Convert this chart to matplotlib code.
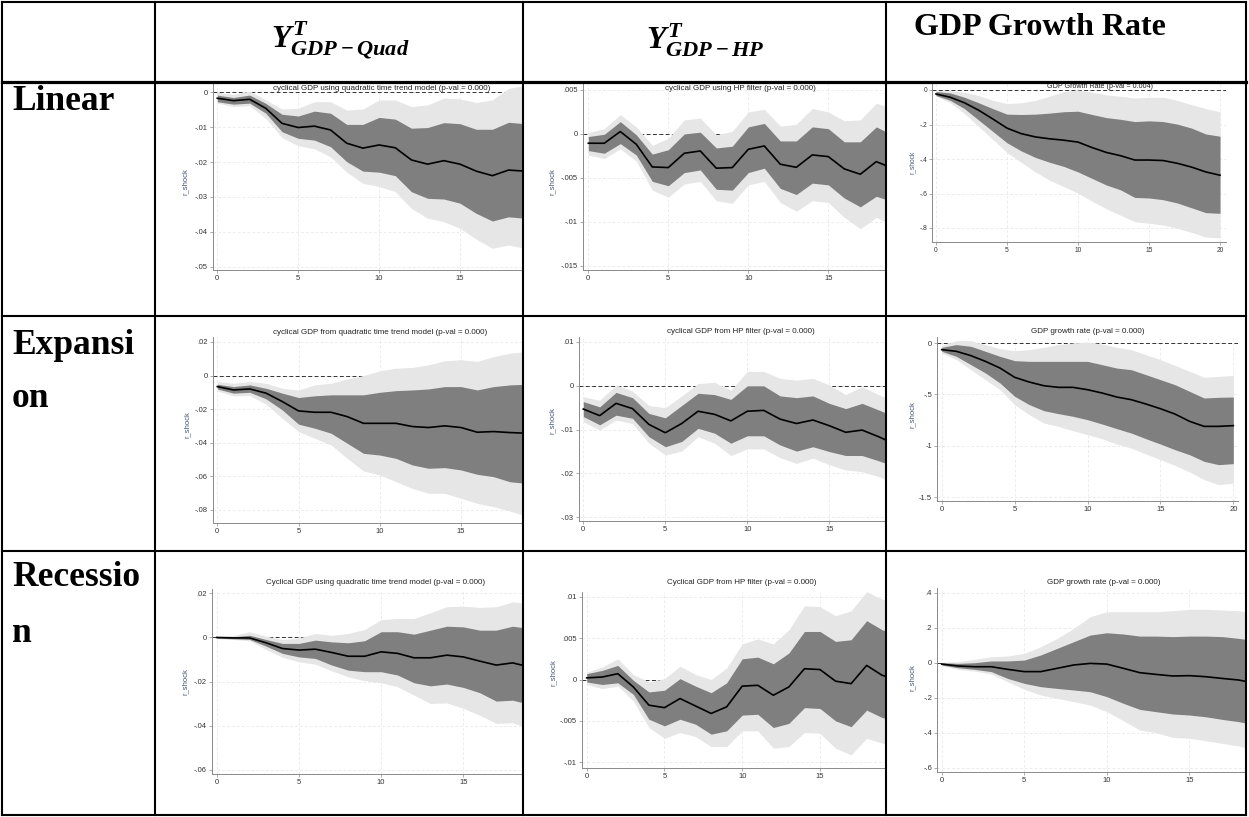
import matplotlib
matplotlib.use('Agg')
import matplotlib.pyplot as plt
from matplotlib.ticker import FuncFormatter

# impulse response steps (Stata irf, 0..20)
steps = list(range(21))

# ---- Linear, quadratic trend ----
lin_quad_irf = [-.0017, -.0024, -.0020, -.0046, -.0089, -.0101, -.0097, -.0108, -.0146, -.0160, -.0151, -.0159, -.0194, -.0206, -.0196, -.0206, -.0226, -.0239, -.0223, -.0226, -.0230]
lin_quad_in_hi = [-.0008, -.0015, -.0008, -.0032, -.0063, -.0068, -.0054, -.0060, -.0092, -.0092, -.0072, -.0077, -.0103, -.0101, -.0087, -.0090, -.0106, -.0106, -.0086, -.0090, -.0092]
lin_quad_in_lo = [-.0027, -.0034, -.0031, -.0060, -.0113, -.0132, -.0137, -.0156, -.0199, -.0226, -.0229, -.0239, -.0285, -.0304, -.0306, -.0318, -.0347, -.0369, -.0357, -.0361, -.0365]
lin_quad_out_hi = [.0000, -.0006, .0004, -.0022, -.0048, -.0046, -.0027, -.0027, -.0051, -.0048, -.0022, -.0022, -.0041, -.0036, -.0017, -.0019, -.0029, -.0022, .0011, .0020, .0025]
lin_quad_out_lo = [-.0031, -.0041, -.0038, -.0075, -.0130, -.0153, -.0162, -.0185, -.0229, -.0261, -.0270, -.0285, -.0333, -.0361, -.0371, -.0390, -.0421, -.0447, -.0438, -.0447, -.0455]

# ---- Linear, HP filter ----
lin_hp_irf = [-.00106, -.00106, .00027, -.00118, -.00376, -.00383, -.0022, -.00194, -.0039, -.00383, -.00175, -.00137, -.00345, -.0038, -.00239, -.00258, -.00398, -.00459, -.00315, -.0039, -.0036]
lin_hp_in_hi = [-.0003, -.00004, .0014, -.0001, -.0023, -.0018, .0000, .0002, -.0016, -.0014, .0008, .0012, -.0008, -.0008, .0008, .0006, -.0009, -.0009, .0008, -.0001, .0000]
lin_hp_in_lo = [-.0019, -.0022, -.0011, -.0024, -.0054, -.0059, -.0044, -.0041, -.0063, -.0064, -.0044, -.0039, -.0062, -.0069, -.0056, -.0058, -.0073, -.0083, -.0071, -.0077, -.0075]
lin_hp_out_hi = [.00015, .0006, .0022, .0008, -.0013, -.0005, .0016, .0018, -.0001, .0003, .0025, .0028, .0009, .0011, .0029, .0025, .0015, .0016, .0035, .0029, .0030]
lin_hp_out_lo = [-.0024, -.0028, -.0017, -.0031, -.0064, -.0072, -.0057, -.0054, -.0076, -.0079, -.0058, -.0054, -.0078, -.0088, -.0076, -.0078, -.0095, -.0108, -.0095, -.0104, -.0102]

# ---- Linear, GDP growth ----
lin_gr_irf = [-.023, -.042, -.074, -.117, -.168, -.221, -.253, -.272, -.283, -.291, -.302, -.334, -.362, -.381, -.406, -.406, -.409, -.425, -.447, -.475, -.494]
lin_gr_in_hi = [-.009, -.017, -.042, -.074, -.108, -.140, -.142, -.140, -.134, -.126, -.123, -.142, -.160, -.170, -.183, -.179, -.183, -.198, -.221, -.255, -.268]
lin_gr_in_lo = [-.032, -.060, -.108, -.174, -.240, -.306, -.353, -.391, -.419, -.443, -.475, -.513, -.551, -.579, -.623, -.626, -.636, -.655, -.683, -.711, -.715]
lin_gr_out_hi = [-.004, -.004, -.013, -.032, -.060, -.079, -.074, -.060, -.036, -.009, .000, -.013, -.028, -.036, -.047, -.042, -.042, -.060, -.085, -.108, -.126]
lin_gr_out_lo = [-.036, -.074, -.136, -.211, -.287, -.362, -.419, -.475, -.523, -.560, -.598, -.645, -.689, -.726, -.764, -.772, -.783, -.802, -.825, -.853, -.857]

# ---- Expansion, quadratic trend ----
exp_quad_irf = [-.0066, -.0086, -.0080, -.0105, -.0155, -.0211, -.0219, -.0219, -.0245, -.0285, -.0285, -.0285, -.0304, -.0310, -.0300, -.0310, -.0338, -.0334, -.0340, -.0344, -.0348]
exp_quad_in_hi = [-.0052, -.0066, -.0056, -.0076, -.0105, -.0131, -.0121, -.0115, -.0115, -.0115, -.0100, -.0090, -.0086, -.0080, -.0066, -.0066, -.0086, -.0066, -.0056, -.0052, -.0050]
exp_quad_in_lo = [-.0080, -.0105, -.0100, -.0139, -.0205, -.0290, -.0314, -.0344, -.0404, -.0464, -.0474, -.0494, -.0533, -.0553, -.0549, -.0563, -.0589, -.0603, -.0633, -.0643, -.0650]
exp_quad_out_hi = [-.0036, -.0046, -.0036, -.0046, -.0076, -.0086, -.0056, -.0046, -.0020, .0000, .0028, .0044, .0048, .0064, .0088, .0094, .0084, .0113, .0133, .0143, .0150]
exp_quad_out_lo = [-.0092, -.0121, -.0119, -.0171, -.0255, -.0334, -.0374, -.0414, -.0494, -.0569, -.0593, -.0633, -.0673, -.0702, -.0702, -.0732, -.0762, -.0782, -.0808, -.0836, -.0850]

# ---- Expansion, HP filter ----
exp_hp_irf = [-.0053, -.0068, -.0040, -.0052, -.0088, -.0107, -.0086, -.0058, -.0065, -.0080, -.0058, -.0056, -.0076, -.0086, -.0078, -.0091, -.0106, -.0101, -.0116, -.0133, -.0130]
exp_hp_in_hi = [-.0036, -.0048, -.0015, -.0027, -.0063, -.0073, -.0045, -.0017, -.0020, -.0031, .0000, .0000, -.0023, -.0027, -.0023, -.0040, -.0052, -.0040, -.0055, -.0070, -.0070]
exp_hp_in_lo = [-.0070, -.0089, -.0067, -.0074, -.0116, -.0139, -.0127, -.0097, -.0108, -.0131, -.0114, -.0114, -.0135, -.0149, -.0139, -.0150, -.0159, -.0159, -.0171, -.0184, -.0185]
exp_hp_out_hi = [-.0025, -.0033, .0002, -.0012, -.0045, -.0050, -.0023, .0005, .0008, -.0010, .0033, .0033, .0017, .0013, .0017, .0002, -.0020, -.0002, -.0020, -.0036, -.0040]
exp_hp_out_lo = [-.0082, -.0101, -.0078, -.0086, -.0131, -.0158, -.0149, -.0116, -.0131, -.0159, -.0144, -.0144, -.0164, -.0177, -.0165, -.0180, -.0192, -.0196, -.0207, -.0222, -.0220]

# ---- Expansion, GDP growth ----
exp_gr_irf = [-.065, -.081, -.123, -.179, -.244, -.334, -.380, -.416, -.432, -.432, -.455, -.487, -.526, -.552, -.594, -.640, -.692, -.763, -.812, -.812, -.805]
exp_gr_in_hi = [-.042, -.016, -.032, -.081, -.130, -.172, -.179, -.179, -.179, -.179, -.179, -.211, -.244, -.260, -.308, -.357, -.406, -.471, -.536, -.529, -.526]
exp_gr_in_lo = [-.081, -.130, -.211, -.292, -.390, -.519, -.600, -.659, -.688, -.714, -.747, -.789, -.834, -.877, -.932, -.984, -1.039, -1.088, -1.153, -1.185, -1.175]
exp_gr_out_hi = [-.023, .023, .023, -.016, -.055, -.075, -.065, -.042, -.016, .000, .010, -.010, -.042, -.065, -.114, -.162, -.218, -.276, -.334, -.325, -.315]
exp_gr_out_lo = [-.097, -.162, -.260, -.357, -.455, -.600, -.698, -.779, -.812, -.854, -.893, -.932, -.984, -1.023, -1.081, -1.136, -1.192, -1.256, -1.331, -1.380, -1.364]

# ---- Recession, quadratic trend ----
rec_quad_irf = [.0000, -.0002, -.0002, -.0024, -.0050, -.0057, -.0053, -.0068, -.0085, -.0085, -.0065, -.0072, -.0092, -.0092, -.0080, -.0088, -.0107, -.0125, -.0115, -.0133, -.0130]
rec_quad_in_hi = [.0003, .0003, .0010, -.0009, -.0027, -.0027, -.0012, -.0020, -.0024, -.0015, .0026, .0026, .0015, .0033, .0051, .0048, .0033, .0033, .0051, .0041, .0040]
rec_quad_in_lo = [-.0003, -.0006, -.0009, -.0039, -.0072, -.0088, -.0095, -.0125, -.0148, -.0155, -.0155, -.0170, -.0205, -.0219, -.0211, -.0226, -.0250, -.0288, -.0284, -.0302, -.0300]
rec_quad_out_hi = [.0006, .0009, .0026, .0006, -.0009, -.0002, .0018, .0010, .0018, .0036, .0081, .0086, .0086, .0112, .0139, .0142, .0136, .0139, .0161, .0154, .0150]
rec_quad_out_lo = [-.0006, -.0009, -.0015, -.0054, -.0090, -.0110, -.0121, -.0151, -.0178, -.0196, -.0205, -.0223, -.0261, -.0299, -.0296, -.0321, -.0352, -.0389, -.0386, -.0412, -.0410]

# ---- Recession, HP filter ----
rec_hp_irf = [.0002, .0003, .0007, -.0009, -.0031, -.0034, -.0023, -.0032, -.0041, -.0033, -.0008, -.0007, -.0019, -.0009, .0013, .0012, -.0002, -.0005, .0017, .0005, .0000]
rec_hp_in_hi = [.0007, .0011, .0017, -.0001, -.0015, -.0013, .0001, -.0008, -.0016, -.0004, .0025, .0027, .0019, .0032, .0058, .0058, .0046, .0048, .0071, .0060, .0055]
rec_hp_in_lo = [-.0003, -.0006, -.0004, -.0018, -.0048, -.0056, -.0048, -.0054, -.0066, -.0062, -.0043, -.0042, -.0058, -.0053, -.0034, -.0035, -.0050, -.0057, -.0037, -.0046, -.0050]
rec_hp_out_hi = [.0009, .0015, .0025, .0006, -.0003, .0001, .0016, .0006, .0000, .0014, .0043, .0049, .0043, .0060, .0089, .0088, .0077, .0083, .0106, .0097, .0090]
rec_hp_out_lo = [-.0006, -.0011, -.0008, -.0026, -.0058, -.0071, -.0064, -.0069, -.0081, -.0081, -.0062, -.0062, -.0083, -.0081, -.0064, -.0065, -.0083, -.0091, -.0071, -.0077, -.0080]

# ---- Recession, GDP growth ----
rec_gr_irf = [-.008, -.019, -.023, -.023, -.038, -.051, -.051, -.032, -.013, -.004, -.008, -.032, -.057, -.067, -.076, -.074, -.080, -.090, -.099, -.118, -.130]
rec_gr_in_hi = [.000, -.004, .000, .010, .010, .015, .044, .082, .120, .158, .171, .164, .152, .152, .149, .152, .152, .149, .139, .126, .120]
rec_gr_in_lo = [-.013, -.029, -.038, -.051, -.090, -.118, -.137, -.147, -.156, -.166, -.194, -.232, -.267, -.280, -.293, -.299, -.309, -.324, -.337, -.356, -.370]
rec_gr_out_hi = [.002, .006, .019, .034, .038, .053, .091, .139, .196, .263, .291, .291, .291, .291, .297, .305, .305, .301, .297, .282, .270]
rec_gr_out_lo = [-.017, -.038, -.048, -.065, -.109, -.152, -.185, -.204, -.223, -.242, -.280, -.331, -.385, -.400, -.427, -.432, -.446, -.461, -.476, -.499, -.520]

# tick labels / titles
x_ticks = [0, 5, 10, 15, 20]
lin_quad_yt = [0, -.01, -.02, -.03, -.04, -.05]
lin_hp_yt = [.005, 0, -.005, -.01, -.015]
lin_gr_yt = [0, -.2, -.4, -.6, -.8]
exp_quad_yt = [.02, 0, -.02, -.04, -.06, -.08]
exp_hp_yt = [.01, 0, -.01, -.02, -.03]
exp_gr_yt = [0, -.5, -1, -1.5]
rec_quad_yt = [.02, 0, -.02, -.04, -.06]
rec_hp_yt = [.01, .005, 0, -.005, -.01]
rec_gr_yt = [.4, .2, 0, -.2, -.4, -.6]

col_headers = [r'$Y^{T}_{GDP-Quad}$', r'$Y^{T}_{GDP-HP}$', 'GDP Growth Rate']
row_labels = [['Linear'], ['Expansi', 'on'], ['Recessio', 'n']]

W, H = 1249, 817
plt.rcParams['font.family'] = ['Liberation Sans', 'DejaVu Sans']
plt.rcParams['mathtext.fontset'] = 'custom'
plt.rcParams['mathtext.it'] = 'Liberation Serif:italic:bold'
plt.rcParams['mathtext.rm'] = 'Liberation Serif:bold'
plt.rcParams['mathtext.bf'] = 'Liberation Serif:bold'

fig = plt.figure(figsize=(W / 100, H / 100), dpi=100)


def stata_fmt(v, pos):
    # Stata style labels: .005, -.01, 0
    if abs(v) < 1e-12:
        return '0'
    s = f'{v:g}'
    if s.startswith('0.') or s.startswith('-0.'):
        s = s.replace('0.', '.', 1)
    return s


def lims(px, ref, a, b):
    # pixel -> data mapping from two reference ticks
    k = (ref[1] - ref[0]) / (px[1] - px[0])
    return ref[0] + (a - px[0]) * k, ref[0] + (b - px[0]) * k


def panel(box, xpx, xref, ypx, yref, yticks, series, title, title_xy, ylab_xy, fs=5.5):
    l, t, r, b = box
    ax = fig.add_axes([l / W, 1 - b / H, (r - l) / W, (b - t) / H])
    irf, in_hi, in_lo, out_hi, out_lo = series
    ax.axhline(0, color='#333333', lw=0.7, ls=(0, (4, 2.5)), zorder=1)  # zero line under bands
    ax.fill_between(steps, out_lo, out_hi, color='#e6e6e6', lw=0, zorder=2)
    ax.fill_between(steps, in_lo, in_hi, color='#7f7f7f', lw=0, zorder=3)
    ax.plot(steps, irf, color='black', lw=1.2, zorder=4)
    ax.set_xticks(x_ticks)
    ax.set_yticks(yticks)
    # limits after the ticks, else set_xticks widens the view to 20
    ax.set_xlim(*lims(xpx, xref, l, r))
    ax.set_ylim(*lims(ypx, yref, b, t))
    ax.yaxis.set_major_formatter(FuncFormatter(stata_fmt))
    ax.grid(True, color='#e4e4e4', lw=0.5, ls=(0, (4, 3)), zorder=0)
    ax.set_axisbelow(True)
    for s in ['top', 'right']:
        ax.spines[s].set_visible(False)
    for s in ['left', 'bottom']:
        ax.spines[s].set_color('#8a8a8a')
        ax.spines[s].set_linewidth(0.7)
    ax.tick_params(length=2, width=0.5, color='#8a8a8a', labelsize=fs, labelcolor='#333333', pad=1.5)
    ax.patch.set_alpha(0)
    fig.text(title_xy[0] / W, 1 - title_xy[1] / H, title, ha='center', va='center',
             fontsize=fs + 0.3, color='#222222')
    fig.text(ylab_xy[0] / W, 1 - ylab_xy[1] / H, 'r_shock', ha='center', va='center',
             rotation=90, fontsize=fs, color='#45557a')
    return ax


# row 1 : Linear
panel((213, 84, 522, 270), (217.3, 460), (0, 15), (92.3, 266.7), (0, -.05), lin_quad_yt,
      (lin_quad_irf, lin_quad_in_hi, lin_quad_in_lo, lin_quad_out_hi, lin_quad_out_lo),
      'cyclical GDP using quadratic time trend model (p-val = 0.000)', (382, 88), (185, 182))
panel((583, 84, 885, 270), (588.3, 828.3), (0, 15), (90, 265.7), (.005, -.015), lin_hp_yt,
      (lin_hp_irf, lin_hp_in_hi, lin_hp_in_lo, lin_hp_out_hi, lin_hp_out_lo),
      'cyclical GDP using HP filter (p-val = 0.000)', (740, 88), (552, 182))
panel((932, 84, 1226, 242), (936, 1220), (0, 20), (90, 228), (0, -.8), lin_gr_yt,
      (lin_gr_irf, lin_gr_in_hi, lin_gr_in_lo, lin_gr_out_hi, lin_gr_out_lo),
      'GDP Growth Rate (p-val = 0.004)', (1100, 86), (912, 162), fs=4.8)

# row 2 : Expansion
panel((213, 337, 522, 523), (217.3, 461), (0, 15), (342, 509.7), (.02, -.08), exp_quad_yt,
      (exp_quad_irf, exp_quad_in_hi, exp_quad_in_lo, exp_quad_out_hi, exp_quad_out_lo),
      'cyclical GDP from quadratic time trend model (p-val = 0.000)', (380, 332), (187, 425))
panel((579, 337, 885, 521), (583.3, 829.3), (0, 15), (342, 517.3), (.01, -.03), exp_hp_yt,
      (exp_hp_irf, exp_hp_in_hi, exp_hp_in_lo, exp_hp_out_hi, exp_hp_out_lo),
      'cyclical GDP from HP filter (p-val = 0.000)', (741, 331), (552, 421))
panel((937, 337, 1238, 501), (941.7, 1233.3), (0, 20), (343, 497), (0, -1.5), exp_gr_yt,
      (exp_gr_irf, exp_gr_in_hi, exp_gr_in_lo, exp_gr_out_hi, exp_gr_out_lo),
      'GDP growth rate (p-val = 0.000)', (1088, 331), (912, 415))

# row 3 : Recession
panel((212, 589, 522, 774), (216.7, 463.3), (0, 15), (593.3, 770), (.02, -.06), rec_quad_yt,
      (rec_quad_irf, rec_quad_in_hi, rec_quad_in_lo, rec_quad_out_hi, rec_quad_out_lo),
      'Cyclical GDP using quadratic time trend model (p-val = 0.000)', (376, 583), (185, 682))
panel((582, 592, 885, 768), (586.7, 820), (0, 15), (596.7, 762.3), (.01, -.01), rec_hp_yt,
      (rec_hp_irf, rec_hp_in_hi, rec_hp_in_lo, rec_hp_out_hi, rec_hp_out_lo),
      'Cyclical GDP from HP filter (p-val = 0.000)', (742, 583), (553, 673))
panel((937, 588, 1245, 772), (941.7, 1189.3), (0, 15), (592.7, 767.7), (.4, -.6), rec_gr_yt,
      (rec_gr_irf, rec_gr_in_hi, rec_gr_in_lo, rec_gr_out_hi, rec_gr_out_lo),
      'GDP growth rate (p-val = 0.000)', (1104, 583), (912, 678))

# table grid + headers drawn on top in pixel coordinates
tab = fig.add_axes([0, 0, 1, 1])
tab.set_xlim(0, W)
tab.set_ylim(H, 0)
tab.axis('off')
tab.set_zorder(10)
tab.patch.set_alpha(0)

col_x = [2, 155, 523, 886, 1246]
row_y = [2, 82, 316, 551, 815]
for x in col_x:
    tab.plot([x, x], [row_y[0], row_y[-1]], color='black', lw=1.5, solid_capstyle='projecting')
for i, y in enumerate(row_y):
    tab.plot([col_x[0], col_x[-1]], [y, y], color='black', lw=2.3 if i == 1 else 1.5,
             solid_capstyle='projecting')

tab.text(340, 40, col_headers[0], ha='center', va='center', fontsize=23)
tab.text(705, 40, col_headers[1], ha='center', va='center', fontsize=23)
tab.text(914, 27, col_headers[2], ha='left', va='center', fontsize=23,
         family='Liberation Serif', weight='bold')

label_y = [[101], [345, 398], [578, 633]]
for lines, ys in zip(row_labels, label_y):
    for txt, y in zip(lines, ys):
        tab.text(12, y, txt, ha='left', va='center', fontsize=25.5,
                 family='Liberation Serif', weight='bold')

plt.savefig('out.png', dpi=100)
plt.close()
